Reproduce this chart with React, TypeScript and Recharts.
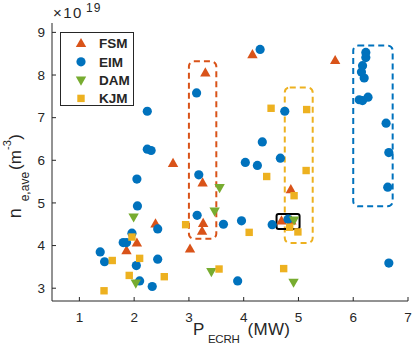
import { ScatterChart, Scatter, XAxis, YAxis, ReferenceArea, Legend } from 'recharts';

const FONT = '"Liberation Sans", Arial, Helvetica, sans-serif';
const INK = '#262626';

// [P_ECRH (MW), n_e,ave (1e19 m^-3)]
const fsmPoints: [number, number][] = [
  [1.86, 3.88], [2.05, 4.06], [2.39, 4.51], [2.71, 5.93], [3.02, 3.92], [3.24, 4.34],
  [3.26, 4.52], [3.25, 5.47], [3.30, 8.05], [4.16, 8.48], [4.69, 4.58], [4.87, 4.58],
  [4.86, 5.31], [5.67, 8.34],
];
const eimPoints: [number, number][] = [
  [1.38, 3.85], [1.46, 3.62], [1.80, 4.07], [1.86, 4.07], [1.96, 4.29], [2.04, 3.53],
  [2.10, 3.17], [2.06, 4.93], [2.05, 5.56], [2.24, 7.15], [2.24, 6.26], [2.31, 6.23],
  [2.33, 3.04], [2.43, 4.39], [2.43, 3.68], [3.15, 4.71], [3.18, 5.66], [3.14, 7.58],
  [3.63, 4.50], [3.89, 3.17], [3.96, 4.58], [4.03, 5.95], [4.25, 5.88], [4.34, 6.43],
  [4.30, 8.60], [4.52, 4.49], [4.67, 6.05], [4.75, 7.15], [4.81, 4.62], [6.11, 7.42],
  [6.17, 7.40], [6.27, 7.48], [6.20, 7.93], [6.15, 8.07], [6.17, 8.22], [6.23, 8.41],
  [6.23, 8.53], [6.60, 6.87], [6.65, 6.18], [6.63, 5.37], [6.65, 3.59],
];
const damPoints: [number, number][] = [
  [1.99, 4.67], [2.03, 3.12], [3.41, 3.39], [3.47, 4.81], [3.56, 5.36], [4.92, 4.60],
  [4.91, 3.14],
];
const kjmPoints: [number, number][] = [
  [1.45, 2.94], [1.60, 3.65], [1.91, 3.30], [1.96, 4.20], [2.10, 3.70], [2.55, 3.27],
  [2.94, 4.49], [3.55, 3.45], [4.10, 4.31], [4.42, 5.62], [4.50, 7.22], [4.73, 3.46],
  [4.84, 4.43], [4.92, 5.17], [4.99, 4.32], [5.14, 5.76], [5.15, 7.19],
];

const xTicks = [1, 2, 3, 4, 5, 6, 7];
const yTicks = [3, 4, 5, 6, 7, 8, 9];

// dashed highlight boxes [x1, x2, y1, y2]
const redBox = [3.0, 3.5, 4.16, 8.32];
const yellowBox = [4.75, 5.26, 4.06, 7.71];
const blueBox = [6.0, 6.72, 4.92, 8.69];
const blackBox = [4.6, 5.02, 4.39, 4.74];

type Kind = 'up' | 'circle' | 'down' | 'square';

const series: { name: string; kind: Kind; color: string; points: [number, number][] }[] = [
  { name: 'FSM', kind: 'up', color: '#D95319', points: fsmPoints },
  { name: 'EIM', kind: 'circle', color: '#0072BD', points: eimPoints },
  { name: 'DAM', kind: 'down', color: '#77AC30', points: damPoints },
  { name: 'KJM', kind: 'square', color: '#EDB120', points: kjmPoints },
];

function Marker({ kind, cx, cy, color }: { kind: Kind; cx: number; cy: number; color: string }) {
  if (kind === 'up')
    return <polygon points={`${cx},${cy - 5.6} ${cx - 5.2},${cy + 3.6} ${cx + 5.2},${cy + 3.6}`} fill={color} />;
  if (kind === 'down')
    return <polygon points={`${cx},${cy + 5.6} ${cx - 5.2},${cy - 3.6} ${cx + 5.2},${cy - 3.6}`} fill={color} />;
  if (kind === 'square')
    return <rect x={cx - 3.7} y={cy - 3.7} width={7.4} height={7.4} fill={color} />;
  return <circle cx={cx} cy={cy} r={4.6} fill={color} />;
}

function boxShape(color: string, dashed: boolean) {
  return (p: any) => (
    <rect
      x={p.x}
      y={p.y}
      width={p.width}
      height={p.height}
      rx={dashed ? 5 : 2}
      fill="none"
      stroke={color}
      strokeWidth={2}
      strokeDasharray={dashed ? '6 4' : undefined}
    />
  );
}

function LegendBox() {
  return (
    <div
      style={{
        width: 72,
        height: 72,
        border: `1px solid ${INK}`,
        background: '#fff',
        fontFamily: FONT,
        fontWeight: 'bold',
        fontSize: 13.5,
        color: INK,
      }}
    >
      <svg width={72} height={72}>
        {series.map((s, i) => (
          <g key={s.name}>
            <Marker kind={s.kind} cx={20} cy={10.5 + i * 18.3} color={s.color} />
            <text x={38} y={15.3 + i * 18.3} fontWeight="bold" fontSize={13.5} fill={INK} fontFamily={FONT}>
              {s.name}
            </text>
          </g>
        ))}
      </svg>
    </div>
  );
}

const tickStyle = { fill: INK, fontSize: 13.5, fontFamily: FONT };

export default function App() {
  return (
    <div style={{ position: 'absolute', left: 0, top: 0, width: 415, height: 347, background: '#fff' }}>
      <ScatterChart width={415} height={347} margin={{ top: 23, right: 7, bottom: 26, left: 0 }}>
        <XAxis
          xAxisId="b"
          type="number"
          dataKey="x"
          domain={[0.5, 7]}
          ticks={xTicks}
          allowDataOverflow
          height={20}
          stroke={INK}
          tickSize={-4}
          tickMargin={15}
          tick={tickStyle}
        />
        <XAxis
          xAxisId="t"
          orientation="top"
          type="number"
          domain={[0.5, 7]}
          ticks={xTicks}
          allowDataOverflow
          height={0}
          stroke={INK}
          tickSize={-4}
          tick={false}
        />
        <YAxis
          yAxisId="l"
          type="number"
          dataKey="y"
          domain={[2.7, 9.22]}
          ticks={yTicks}
          allowDataOverflow
          width={52}
          stroke={INK}
          tickSize={-4}
          tickMargin={11}
          tick={tickStyle}
        />
        <YAxis
          yAxisId="r"
          orientation="right"
          type="number"
          domain={[2.7, 9.22]}
          ticks={yTicks}
          allowDataOverflow
          width={0}
          stroke={INK}
          tickSize={-4}
          tick={false}
        />
        <ReferenceArea xAxisId="b" yAxisId="l" x1={redBox[0]} x2={redBox[1]} y1={redBox[2]} y2={redBox[3]} shape={boxShape('#D95319', true)} />
        <ReferenceArea xAxisId="b" yAxisId="l" x1={yellowBox[0]} x2={yellowBox[1]} y1={yellowBox[2]} y2={yellowBox[3]} shape={boxShape('#EDB120', true)} />
        <ReferenceArea xAxisId="b" yAxisId="l" x1={blueBox[0]} x2={blueBox[1]} y1={blueBox[2]} y2={blueBox[3]} shape={boxShape('#0072BD', true)} />
        {series.map((s) => (
          <Scatter
            key={s.name}
            name={s.name}
            xAxisId="b"
            yAxisId="l"
            data={s.points.map(([x, y]) => ({ x, y }))}
            isAnimationActive={false}
            shape={(p: any) => <Marker kind={s.kind} cx={p.cx} cy={p.cy} color={s.color} />}
          />
        ))}
        <ReferenceArea xAxisId="b" yAxisId="l" x1={blackBox[0]} x2={blackBox[1]} y1={blackBox[2]} y2={blackBox[3]} shape={boxShape('#000', false)} />
        <Legend
          layout="vertical"
          align="center"
          verticalAlign="middle"
          wrapperStyle={{ left: 60, top: 32, width: 74, height: 74 }}
          content={() => <LegendBox />}
        />
      </ScatterChart>
      <svg width={415} height={347} style={{ position: 'absolute', left: 0, top: 0, pointerEvents: 'none' }}>
        <text fontFamily={FONT} fill={INK}>
          <tspan x={53} y={18.3} fontSize={15} letterSpacing={1.5}>×10</tspan>
          <tspan x={86} y={11.7} fontSize={12} letterSpacing={1}>19</tspan>
        </text>
        <text fontFamily={FONT} fill={INK}>
          <tspan x={193} y={335} fontSize={17}>P</tspan>
          <tspan x={208} y={342.7} fontSize={11.5} letterSpacing={-0.3}>ECRH</tspan>
          <tspan x={247.5} y={335} fontSize={17} letterSpacing={0.3}>(MW)</tspan>
        </text>
        <text transform="translate(20.7,218.3) rotate(-90)" fontFamily={FONT} fill={INK}>
          <tspan x={0} y={0} fontSize={18}>n</tspan>
          <tspan x={17} y={8} fontSize={12}>e,ave</tspan>
          <tspan x={48.3} y={0} fontSize={17}>(m</tspan>
          <tspan x={68.3} y={-10} fontSize={11}>-3</tspan>
          <tspan x={78.5} y={0} fontSize={17}>)</tspan>
        </text>
      </svg>
    </div>
  );
}
